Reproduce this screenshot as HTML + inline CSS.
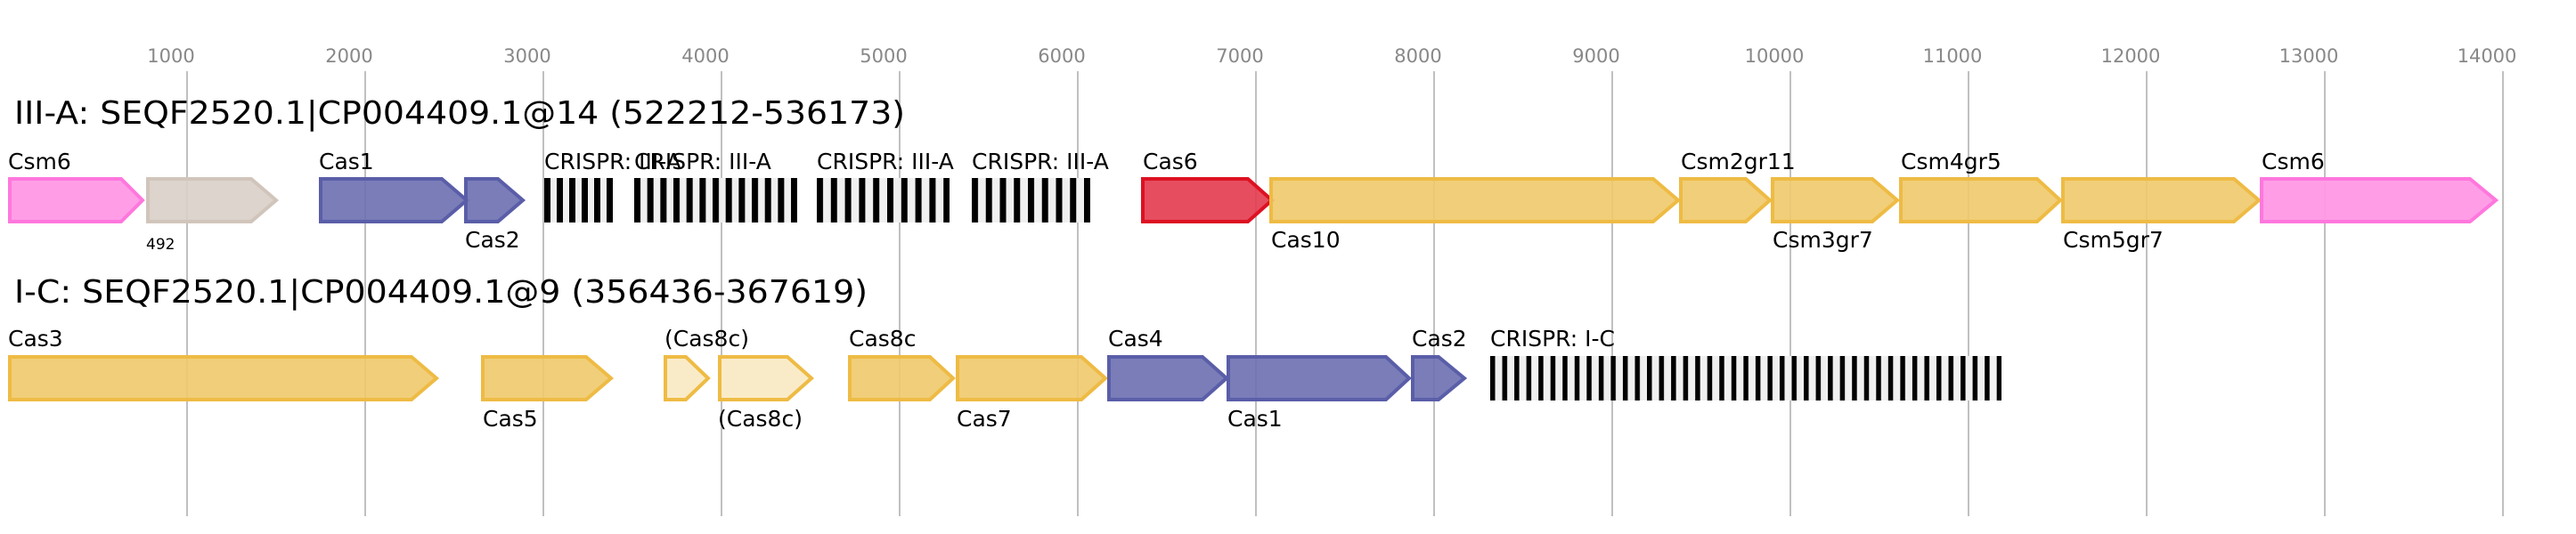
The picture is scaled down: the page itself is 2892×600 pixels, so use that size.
<!DOCTYPE html>
<html><head><meta charset="utf-8"><style>
html,body{margin:0;padding:0;background:#fff;}
svg{display:block;}
text{font-family:"DejaVu Sans","Liberation Sans",sans-serif;}
</style></head><body>
<svg width="2892" height="600" viewBox="0 0 2892 600" xmlns="http://www.w3.org/2000/svg">
<defs>
<pattern id="c1" patternUnits="userSpaceOnUse" x="611" y="0" width="14" height="600"><rect x="0" y="0" width="7" height="600" fill="#000"/></pattern>
<pattern id="c2" patternUnits="userSpaceOnUse" x="712" y="0" width="14.67" height="600"><rect x="0" y="0" width="7" height="600" fill="#000"/></pattern>
<pattern id="c3" patternUnits="userSpaceOnUse" x="917" y="0" width="15.8" height="600"><rect x="0" y="0" width="7" height="600" fill="#000"/></pattern>
<pattern id="c4" patternUnits="userSpaceOnUse" x="1091" y="0" width="15.75" height="600"><rect x="0" y="0" width="7" height="600" fill="#000"/></pattern>
<pattern id="c5" patternUnits="userSpaceOnUse" x="1673" y="0" width="13.54" height="600"><rect x="0" y="0" width="5.5" height="600" fill="#000"/></pattern>
</defs>
<g stroke="#c0c0c0" stroke-width="2">
<line x1="210" y1="80" x2="210" y2="580"/><line x1="410" y1="80" x2="410" y2="580"/><line x1="610" y1="80" x2="610" y2="580"/><line x1="810" y1="80" x2="810" y2="580"/><line x1="1010" y1="80" x2="1010" y2="580"/><line x1="1210" y1="80" x2="1210" y2="580"/><line x1="1410" y1="80" x2="1410" y2="580"/><line x1="1610" y1="80" x2="1610" y2="580"/><line x1="1810" y1="80" x2="1810" y2="580"/><line x1="2010" y1="80" x2="2010" y2="580"/><line x1="2210" y1="80" x2="2210" y2="580"/><line x1="2410" y1="80" x2="2410" y2="580"/><line x1="2610" y1="80" x2="2610" y2="580"/><line x1="2810" y1="80" x2="2810" y2="580"/>
</g>
<g fill="#888" font-size="21" text-anchor="middle">
<text x="192" y="70">1000</text><text x="392" y="70">2000</text><text x="592" y="70">3000</text><text x="792" y="70">4000</text><text x="992" y="70">5000</text><text x="1192" y="70">6000</text><text x="1392" y="70">7000</text><text x="1592" y="70">8000</text><text x="1792" y="70">9000</text><text x="1992" y="70">10000</text><text x="2192" y="70">11000</text><text x="2392" y="70">12000</text><text x="2592" y="70">13000</text><text x="2792" y="70">14000</text>
</g>
<text x="16" y="139" font-size="36" textLength="1000" lengthAdjust="spacingAndGlyphs">III-A: SEQF2520.1|CP004409.1@14 (522212-536173)</text>
<text x="16" y="340" font-size="36" textLength="958" lengthAdjust="spacingAndGlyphs">I-C: SEQF2520.1|CP004409.1@9 (356436-367619)</text>
<g stroke-width="4" stroke-linejoin="miter">
<polygon points="11,201 136,201 160,225 136,249 11,249" fill="#ff99e6" stroke="#ff77dd" fill-opacity="0.95"/>
<polygon points="166,201 282,201 310,225 282,249 166,249" fill="#d8cfc8" stroke="#d1c5bb" fill-opacity="0.9"/>
<polygon points="360,201 496,201 524,225 496,249 360,249" fill="#6b6fb0" stroke="#5a5ea8" fill-opacity="0.9"/>
<polygon points="523,201 559,201 587,225 559,249 523,249" fill="#6b6fb0" stroke="#5a5ea8" fill-opacity="0.9"/>
<polygon points="1283,201 1401,201 1428,225 1401,249 1283,249" fill="#e33a4c" stroke="#dd1122" fill-opacity="0.9"/>
<polygon points="1427,201 1856,201 1884,225 1856,249 1427,249" fill="#f0c96a" stroke="#eebb44" fill-opacity="0.9"/>
<polygon points="1887,201 1960,201 1987,225 1960,249 1887,249" fill="#f0c96a" stroke="#eebb44" fill-opacity="0.9"/>
<polygon points="1990,201 2102,201 2130,225 2102,249 1990,249" fill="#f0c96a" stroke="#eebb44" fill-opacity="0.9"/>
<polygon points="2134,201 2287,201 2313,225 2287,249 2134,249" fill="#f0c96a" stroke="#eebb44" fill-opacity="0.9"/>
<polygon points="2316,201 2508,201 2536,225 2508,249 2316,249" fill="#f0c96a" stroke="#eebb44" fill-opacity="0.9"/>
<polygon points="2539,201 2773,201 2802,225 2773,249 2539,249" fill="#ff99e6" stroke="#ff77dd" fill-opacity="0.95"/>

<polygon points="11,401 462,401 490,425 462,449 11,449" fill="#f0c96a" stroke="#eebb44" fill-opacity="0.9"/>
<polygon points="542,401 658,401 686,425 658,449 542,449" fill="#f0c96a" stroke="#eebb44" fill-opacity="0.9"/>
<polygon points="747,401 770,401 795,425 770,449 747,449" fill="#faebc8" stroke="#eebb44"/>
<polygon points="808,401 884,401 911,425 884,449 808,449" fill="#faebc8" stroke="#eebb44"/>
<polygon points="954,401 1044,401 1070,425 1044,449 954,449" fill="#f0c96a" stroke="#eebb44" fill-opacity="0.9"/>
<polygon points="1075,401 1214,401 1241,425 1214,449 1075,449" fill="#f0c96a" stroke="#eebb44" fill-opacity="0.9"/>
<polygon points="1245,401 1350,401 1377,425 1350,449 1245,449" fill="#6b6fb0" stroke="#5a5ea8" fill-opacity="0.9"/>
<polygon points="1379,401 1556,401 1582,425 1556,449 1379,449" fill="#6b6fb0" stroke="#5a5ea8" fill-opacity="0.9"/>
<polygon points="1586,401 1615,401 1644,425 1615,449 1586,449" fill="#6b6fb0" stroke="#5a5ea8" fill-opacity="0.9"/>
</g>
<rect x="611" y="200" width="77" height="50" fill="#f0f0f0"/><rect x="611" y="200" width="77" height="50" fill="url(#c1)"/>
<rect x="712" y="200" width="183" height="50" fill="#f0f0f0"/><rect x="712" y="200" width="183" height="50" fill="url(#c2)"/>
<rect x="917" y="200" width="149" height="50" fill="#f0f0f0"/><rect x="917" y="200" width="149" height="50" fill="url(#c3)"/>
<rect x="1091" y="200" width="133" height="50" fill="#f0f0f0"/><rect x="1091" y="200" width="133" height="50" fill="url(#c4)"/>
<rect x="1673" y="400" width="574" height="50" fill="#f0f0f0"/><rect x="1673" y="400" width="574" height="50" fill="url(#c5)"/>
<g font-size="25" fill="#000">
<text x="9" y="190">Csm6</text>
<text x="358" y="190">Cas1</text>
<text x="522" y="278">Cas2</text>
<text x="611" y="190">CRISPR: III-A</text>
<text x="712" y="190">CRISPR: III-A</text>
<text x="917" y="190">CRISPR: III-A</text>
<text x="1091" y="190">CRISPR: III-A</text>
<text x="1283" y="190">Cas6</text>
<text x="1427" y="278">Cas10</text>
<text x="1887" y="190">Csm2gr11</text>
<text x="1990" y="278">Csm3gr7</text>
<text x="2134" y="190">Csm4gr5</text>
<text x="2316" y="278">Csm5gr7</text>
<text x="2539" y="190">Csm6</text>
<text x="9" y="389">Cas3</text>
<text x="542" y="479">Cas5</text>
<text x="746" y="389">(Cas8c)</text>
<text x="806" y="479">(Cas8c)</text>
<text x="953" y="389">Cas8c</text>
<text x="1074" y="479">Cas7</text>
<text x="1244" y="389">Cas4</text>
<text x="1378" y="479">Cas1</text>
<text x="1585" y="389">Cas2</text>
<text x="1673" y="389">CRISPR: I-C</text>
</g>
<text x="164" y="280" font-size="17" fill="#000">492</text>
</svg>
</body></html>
